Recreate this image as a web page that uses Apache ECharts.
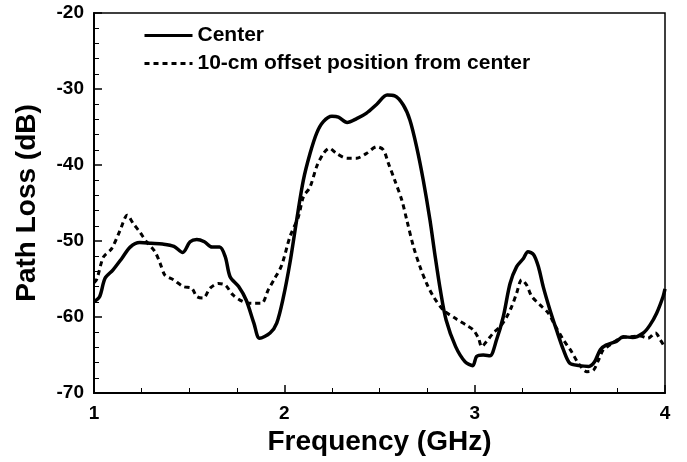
<!DOCTYPE html>
<html>
<head>
<meta charset="utf-8">
<script src="https://cdn.jsdelivr.net/npm/echarts@6/dist/echarts.min.js"></script>
<style>html,body{margin:0;padding:0;background:#fff;}#c{width:687px;height:462px;}</style>
</head>
<body>
<div id="c"></div>
<script>
const seriesNames = ['Center', '10-cm offset position from center'];
const xTicks = [1, 2, 3, 4];
const yTicks = [-70, -60, -50, -40, -30, -20];

const centerFreq = [1.00,1.03,1.058,1.10,1.146,1.19,1.24,1.30,1.36,1.42,1.466,1.505,1.54,1.58,1.62,1.66,1.69,1.715,1.76,1.80,1.84,1.87,1.925,1.96,1.995,2.03,2.065,2.10,2.135,2.17,2.205,2.25,2.284,2.33,2.38,2.43,2.486,2.54,2.58,2.625,2.66,2.695,2.73,2.765,2.79,2.82,2.85,2.90,2.95,2.99,3.01,3.045,3.08,3.115,3.15,3.186,3.22,3.256,3.28,3.31,3.335,3.36,3.396,3.43,3.466,3.50,3.55,3.60,3.63,3.66,3.69,3.745,3.78,3.83,3.886,3.92,3.956,3.99,4.00];
const centerLoss = [-58.0,-57.3,-54.9,-53.8,-52.3,-50.8,-50.2,-50.3,-50.4,-50.7,-51.5,-50.1,-49.8,-50.1,-50.8,-50.8,-52.1,-54.7,-56.0,-57.8,-60.8,-62.8,-62.1,-60.8,-57.4,-52.8,-47.2,-42.0,-38.5,-35.8,-34.3,-33.6,-33.7,-34.4,-33.9,-33.2,-32.0,-30.8,-30.9,-32.1,-34.1,-37.6,-42.0,-47.2,-51.6,-56.5,-60.4,-63.9,-65.9,-66.4,-65.2,-65.0,-65.1,-63.0,-60.0,-55.6,-53.4,-52.3,-51.4,-51.8,-53.4,-56.0,-59.1,-61.7,-64.3,-66.1,-66.4,-66.5,-65.9,-64.3,-63.7,-63.2,-62.6,-62.7,-62.1,-61.1,-59.5,-57.3,-56.3];

const offsetFreq = [1.00,1.015,1.05,1.093,1.137,1.175,1.206,1.24,1.276,1.32,1.347,1.373,1.417,1.47,1.513,1.54,1.574,1.61,1.653,1.69,1.73,1.785,1.83,1.88,1.916,1.95,1.986,2.03,2.074,2.10,2.135,2.17,2.205,2.236,2.275,2.33,2.38,2.43,2.486,2.52,2.547,2.58,2.617,2.643,2.678,2.713,2.748,2.783,2.836,2.906,2.958,2.993,3.02,3.037,3.063,3.098,3.133,3.168,3.195,3.22,3.247,3.273,3.30,3.343,3.387,3.422,3.466,3.51,3.545,3.59,3.624,3.65,3.676,3.71,3.764,3.816,3.87,3.91,3.95,3.975,4.00];
const offsetLoss = [-55.5,-55.0,-52.1,-51.0,-48.6,-46.6,-47.7,-48.8,-50.1,-51.4,-52.9,-54.5,-55.1,-56.0,-56.2,-57.3,-57.5,-56.2,-55.6,-55.8,-57.1,-58.0,-58.2,-58.2,-56.4,-54.9,-53.2,-49.4,-46.8,-44.2,-42.9,-40.2,-38.5,-37.8,-38.5,-39.1,-39.1,-38.5,-37.6,-38.0,-39.8,-42.0,-44.6,-47.2,-50.7,-53.4,-55.6,-57.3,-59.1,-60.3,-61.1,-61.7,-62.8,-63.9,-63.2,-62.1,-61.3,-60.0,-58.6,-56.9,-55.1,-55.8,-57.3,-58.4,-59.5,-61.1,-63.0,-64.6,-66.1,-67.2,-67.0,-65.7,-64.3,-63.7,-62.8,-62.6,-62.5,-62.8,-62.1,-63.0,-64.0];

function pairs(xs, ys) { return xs.map((x, i) => [x, ys[i]]); }

const FONT = '"Liberation Sans", Arial, Helvetica, sans-serif';
const chart = echarts.init(document.getElementById('c'), null, {renderer: 'canvas'});
chart.setOption({
  animation: false,
  backgroundColor: '#ffffff',
  grid: {left: 94, right: 22, top: 13, bottom: 69, show: true, borderColor: '#000', borderWidth: 1.5, backgroundColor: 'transparent'},
  legend: {
    orient: 'vertical', left: 138, top: 20,
    itemWidth: 48, itemHeight: 14, itemGap: 7,
    itemStyle: {opacity: 0, color: 'transparent', borderWidth: 0},
    lineStyle: {width: 3},
    textStyle: {fontFamily: FONT, fontWeight: 'bold', fontSize: 21, color: '#000'},
    data: seriesNames
  },
  xAxis: {
    type: 'value', min: xTicks[0], max: xTicks[xTicks.length - 1], interval: 1,
    name: 'Frequency (GHz)', nameLocation: 'middle', nameGap: 32,
    nameTextStyle: {fontFamily: FONT, fontWeight: 'bold', fontSize: 28, color: '#000'},
    axisLine: {lineStyle: {color: '#000', width: 2}},
    axisTick: {inside: true, length: 8, lineStyle: {color: '#000', width: 1.5}},
    minorTick: {show: true, splitNumber: 4, length: 5, lineStyle: {color: '#000', width: 1}},
    splitLine: {show: false},
    axisLabel: {fontFamily: FONT, fontWeight: 'bold', fontSize: 19, color: '#000', margin: 11}
  },
  yAxis: {
    type: 'value', min: yTicks[0], max: yTicks[yTicks.length - 1], interval: 10,
    name: 'Path Loss (dB)', nameLocation: 'middle', nameGap: 53,
    nameTextStyle: {fontFamily: FONT, fontWeight: 'bold', fontSize: 28, color: '#000'},
    axisLine: {lineStyle: {color: '#000', width: 2}},
    axisTick: {inside: true, length: 8, lineStyle: {color: '#000', width: 1.5}},
    minorTick: {show: true, splitNumber: 5, length: 5, lineStyle: {color: '#000', width: 1}},
    splitLine: {show: false},
    axisLabel: {fontFamily: FONT, fontWeight: 'bold', fontSize: 19, color: '#000', margin: 10}
  },
  series: [
    {name: seriesNames[0], type: 'line', symbol: 'none', smooth: 0.3,
     data: pairs(centerFreq, centerLoss),
     lineStyle: {color: '#000', width: 3.5}, itemStyle: {color: '#000'}},
    {name: seriesNames[1], type: 'line', symbol: 'none', smooth: 0.3,
     data: pairs(offsetFreq, offsetLoss),
     lineStyle: {color: '#000', width: 3, type: [5, 4]}, itemStyle: {color: '#000'}}
  ]
});
</script>
</body>
</html>
